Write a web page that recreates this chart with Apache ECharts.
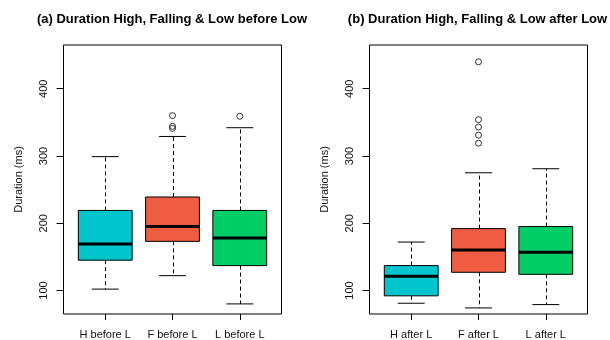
<!DOCTYPE html>
<html>
<head>
<meta charset="utf-8">
<script src="https://cdn.jsdelivr.net/npm/echarts@6/dist/echarts.min.js"></script>
<style>html,body{margin:0;padding:0;background:#fff;}#c{width:610px;height:340px;}</style>
</head>
<body>
<div id="c"></div>
<script>
// ---- data ----
const titleA = "(a) Duration High, Falling & Low before Low";
const titleB = "(b) Duration High, Falling & Low after Low";
const catsA = ["H before L", "F before L", "L before L"];
const catsB = ["H after L", "F after L", "L after L"];
// [lower whisker, Q1, median, Q3, upper whisker]
const statsA = [
  [102, 145, 169, 219, 299],
  [122, 173, 195, 239, 329],
  [80, 137, 178, 219, 342]
];
const statsB = [
  [81, 92, 121, 137, 172],
  [74, 127, 160, 192, 275],
  [79, 124, 157, 195, 281]
];
const outliersA = [[], [360, 344, 341], [359]];
const outliersB = [[], [440, 354, 343, 331, 319], []];
const boxColors = ["#00C5CD", "#EE5C42", "#00CD66"];
const yTicks = [100, 200, 300, 400];
const xTicks = [1, 2, 3];
const yLabel = "Duration (ms)";

const FONT = "'Liberation Sans', Arial, sans-serif";

function boxData(stats) {
  return stats.map((s, i) => [i + 1].concat(s));
}
function outlierData(outs) {
  const d = [];
  outs.forEach((arr, i) => arr.forEach(v => d.push([i + 1, v])));
  return d;
}

function renderBox(params, api) {
  const x = api.value(0);
  const lo = api.value(1), q1 = api.value(2), med = api.value(3), q3 = api.value(4), hi = api.value(5);
  const hw = 0.4, cw = 0.2;
  const pLo = api.coord([x, lo]), pHi = api.coord([x, hi]);
  const pQ1 = api.coord([x, q1]), pQ3 = api.coord([x, q3]);
  const l = api.coord([x - hw, q3]), r = api.coord([x + hw, q1]);
  const cl = api.coord([x - cw, lo]), cr = api.coord([x + cw, lo]);
  const ml = api.coord([x - hw, med]), mr = api.coord([x + hw, med]);
  const xc = Math.round(pLo[0]) + 0.5;
  const line = { stroke: "#000", lineWidth: 1 };
  const dash = { stroke: "#000", lineWidth: 1, lineDash: [4, 3] };
  return {
    type: "group",
    children: [
      { type: "line", shape: { x1: xc, y1: pQ3[1], x2: xc, y2: pHi[1] }, style: dash },
      { type: "line", shape: { x1: xc, y1: pQ1[1], x2: xc, y2: pLo[1] }, style: dash },
      { type: "line", shape: { x1: cl[0], y1: pHi[1], x2: cr[0], y2: pHi[1] }, style: line },
      { type: "line", shape: { x1: cl[0], y1: pLo[1], x2: cr[0], y2: pLo[1] }, style: line },
      { type: "rect", shape: { x: l[0], y: l[1], width: r[0] - l[0], height: r[1] - l[1] },
        style: { fill: boxColors[params.dataIndex], stroke: "#000", lineWidth: 1 } },
      { type: "line", shape: { x1: ml[0], y1: ml[1], x2: mr[0], y2: mr[1] }, style: { stroke: "#000", lineWidth: 3 } }
    ]
  };
}

function xAxisCfg(gi, cats) {
  return {
    type: "value", gridIndex: gi, min: 0.38, max: 3.62,
    axisLine: { show: false }, splitLine: { show: false },
    axisTick: { show: true, length: 6, customValues: xTicks, lineStyle: { color: "#000" } },
    axisLabel: { customValues: xTicks, formatter: v => cats[Math.round(v) - 1], margin: 15,
      fontSize: 11, color: "#111", fontFamily: FONT }
  };
}
function yAxisCfg(gi) {
  return {
    type: "value", gridIndex: gi, min: 65, max: 465,
    name: yLabel, nameLocation: "middle", nameGap: 39,
    nameTextStyle: { fontSize: 11, color: "#111", fontFamily: FONT },
    axisLine: { show: false }, splitLine: { show: false },
    axisTick: { show: true, length: 7, customValues: yTicks, lineStyle: { color: "#000" } },
    axisLabel: { customValues: yTicks, rotate: 90, margin: 14, fontSize: 11, color: "#111", fontFamily: FONT }
  };
}

const chart = echarts.init(document.getElementById("c"), null, { renderer: "canvas" });
chart.setOption({
  animation: false,
  backgroundColor: "#fff",
  graphic: [
    { type: "text", x: 172, y: 19, style: { text: titleA, align: "center", verticalAlign: "middle",
      font: "bold 13px " + FONT, fill: "#000" } },
    { type: "text", x: 477.5, y: 19, style: { text: titleB, align: "center", verticalAlign: "middle",
      font: "bold 13px " + FONT, fill: "#000" } }
  ],
  grid: [
    { left: 63.5, top: 45, width: 218, height: 270, show: true, borderColor: "#000", borderWidth: 1, backgroundColor: "transparent" },
    { left: 369.5, top: 45, width: 218, height: 270, show: true, borderColor: "#000", borderWidth: 1, backgroundColor: "transparent" }
  ],
  xAxis: [xAxisCfg(0, catsA), xAxisCfg(1, catsB)],
  yAxis: [yAxisCfg(0), yAxisCfg(1)],
  series: [
    { type: "custom", xAxisIndex: 0, yAxisIndex: 0, renderItem: renderBox, data: boxData(statsA),
      encode: { x: 0, y: [1, 2, 3, 4, 5] }, clip: false },
    { type: "custom", xAxisIndex: 1, yAxisIndex: 1, renderItem: renderBox, data: boxData(statsB),
      encode: { x: 0, y: [1, 2, 3, 4, 5] }, clip: false },
    { type: "scatter", xAxisIndex: 0, yAxisIndex: 0, data: outlierData(outliersA), symbol: "circle", symbolSize: 6,
      itemStyle: { color: "rgba(0,0,0,0)", borderColor: "#000", borderWidth: 1 } },
    { type: "scatter", xAxisIndex: 1, yAxisIndex: 1, data: outlierData(outliersB), symbol: "circle", symbolSize: 6,
      itemStyle: { color: "rgba(0,0,0,0)", borderColor: "#000", borderWidth: 1 } }
  ]
});
</script>
</body>
</html>
